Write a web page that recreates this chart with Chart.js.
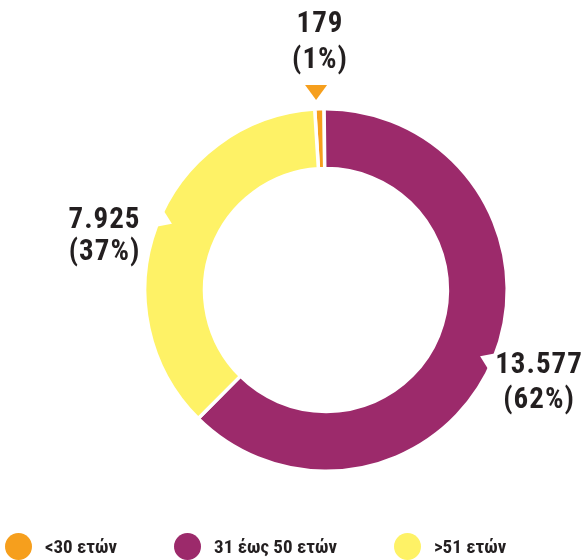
<!DOCTYPE html>
<html>
<head>
<meta charset="utf-8">
<script src="https://cdn.jsdelivr.net/npm/chart.js@4/dist/chart.umd.min.js"></script>
<style>
  html, body { margin: 0; padding: 0; background: #ffffff; }
  #wrap { position: relative; width: 584px; height: 560px; overflow: hidden; }
  #c { position: absolute; left: 0; top: 0; }
  #legend { position: absolute; left: 5px; top: 533px; display: flex; align-items: center;
            font-family: "Liberation Sans Narrow", "Roboto Condensed", "Liberation Sans", sans-serif;
            font-weight: bold; font-size: 19px; color: #231f20; }
  .item { display: flex; align-items: center; margin-right: 57px; white-space: nowrap; }
  .dot { width: 27px; height: 27px; border-radius: 50%; margin-right: 13px; }
</style>
</head>
<body>
<div id="wrap">
  <canvas id="c" width="584" height="560"></canvas>
  <div id="legend"></div>
</div>
<script>
// ---- data ----
const categories = ['<30 ετών', '31 έως 50 ετών', '>51 ετών'];
const values = [179, 13577, 7925];
const percentLabels = ['1%', '62%', '37%'];
const colors = ['#F69F1D', '#9C2A6B', '#FEF266'];

const total = values.reduce((a, b) => a + b, 0);
function fmt(n) { return String(n).replace(/\B(?=(\d{3})+(?!\d))/g, '.'); }

// label placement (style only): offsets from chart centre, line gap
const labelPos = [
  { dx: -6, dy: -265, gap: 36 },     // 179
  { dx: 213, dy: 76, gap: 34.5 },    // 13.577
  { dx: -221.5, dy: -69, gap: 32 }   // 7.925
];
const notchAngles = [null, 23.3, 203.3]; // degrees, canvas orientation

const FONT = '"Liberation Sans Narrow", "Roboto Condensed", "Liberation Sans", sans-serif';

const decorPlugin = {
  id: 'decor',
  afterDatasetsDraw(chart) {
    const ctx = chart.ctx;
    const meta = chart.getDatasetMeta(0);
    meta.data.forEach((arc, i) => {
      const p = arc.getProps(['x', 'y', 'startAngle', 'endAngle', 'outerRadius', 'innerRadius'], true);
      const cx = p.x, cy = p.y, R = p.outerRadius;
      ctx.save();
      if (notchAngles[i] !== null) {
        const a = notchAngles[i] * Math.PI / 180;
        const depth = 13.5, half = 10.5;
        const ux = Math.cos(a), uy = Math.sin(a);
        const px = -uy, py = ux;
        const tipR = R - depth;
        ctx.fillStyle = '#ffffff';
        ctx.beginPath();
        ctx.moveTo(cx + ux * tipR, cy + uy * tipR);
        ctx.lineTo(cx + ux * (R + 2) + px * half, cy + uy * (R + 2) + py * half);
        ctx.lineTo(cx + ux * (R + 2) - px * half, cy + uy * (R + 2) - py * half);
        ctx.closePath();
        ctx.fill();
      } else {
        const mid = (p.startAngle + p.endAngle) / 2;
        const tx = cx + Math.cos(mid) * (R + 9) - 3;
        const ty = cy + Math.sin(mid) * (R + 9);
        ctx.fillStyle = colors[i];
        ctx.beginPath();
        ctx.moveTo(tx, ty);
        ctx.lineTo(tx - 11, ty - 15);
        ctx.lineTo(tx + 11, ty - 15);
        ctx.closePath();
        ctx.fill();
      }
      // labels
      const lp = labelPos[i];
      const lx = cx + lp.dx, ly = cy + lp.dy;
      ctx.fillStyle = '#231f20';
      ctx.font = 'bold 29px ' + FONT;
      ctx.textAlign = 'center';
      ctx.textBaseline = 'middle';
      try { ctx.letterSpacing = '1px'; } catch (e) {}
      ctx.fillText(fmt(values[i]), lx, ly);
      ctx.fillText('(' + percentLabels[i] + ')', lx, ly + lp.gap);
      ctx.restore();
    });
  }
};

new Chart(document.getElementById('c'), {
  type: 'doughnut',
  data: {
    labels: categories,
    datasets: [{
      data: values,
      backgroundColor: colors,
      borderColor: '#ffffff',
      borderWidth: 3.5,
      hoverOffset: 0
    }]
  },
  options: {
    responsive: false,
    animation: false,
    cutout: '67%',
    rotation: -360 * values[0] / total - 0.6,
    layout: { padding: { top: 107, bottom: 87, left: 100, right: 32 } },
    plugins: {
      legend: { display: false },
      tooltip: { enabled: false }
    }
  },
  plugins: [decorPlugin]
});

// HTML legend built from the data arrays
const lg = document.getElementById('legend');
categories.forEach((c, i) => {
  const it = document.createElement('div');
  it.className = 'item';
  const d = document.createElement('div');
  d.className = 'dot';
  d.style.background = colors[i];
  const t = document.createElement('span');
  t.textContent = c;
  it.appendChild(d); it.appendChild(t);
  lg.appendChild(it);
});
</script>
</body>
</html>
